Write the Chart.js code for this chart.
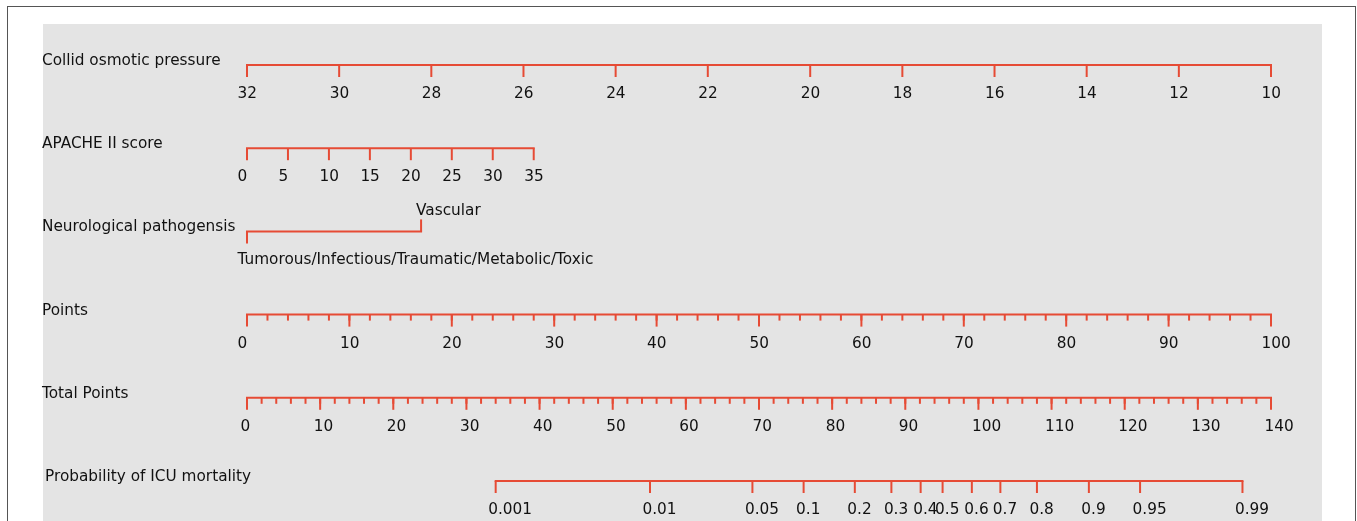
<!DOCTYPE html>
<html>
<head>
<meta charset="utf-8">
<script src="https://cdn.jsdelivr.net/npm/chart.js@4"></script>
<style>
  body { margin: 0; background: #fff; }
  canvas { display: block; }
</style>
</head>
<body>
<canvas id="nomo" width="1357" height="521"></canvas>
<script>
// row titles
const rowTitles = ['Collid osmotic pressure', 'APACHE II score', 'Neurological pathogensis',
                   'Points', 'Total Points', 'Probability of ICU mortality'];

// collid osmotic pressure: labels and their position on the points scale
const copLabels = ['32', '30', '28', '26', '24', '22', '20', '18', '16', '14', '12', '10'];
const copPoints = [0, 9, 18, 27, 36, 45, 55, 64, 73, 82, 91, 100];

// APACHE II score
const apacheLabels = ['0', '5', '10', '15', '20', '25', '30', '35'];
const apachePoints = [0, 4, 8, 12, 16, 20, 24, 28];

// neurological pathogenesis
const neuroLabels = ['Tumorous/Infectious/Traumatic/Metabolic/Toxic', 'Vascular'];
const neuroPoints = [0, 17];

// points axis
const pointsLabels = ['0', '10', '20', '30', '40', '50', '60', '70', '80', '90', '100'];
const pointsValues = [0, 10, 20, 30, 40, 50, 60, 70, 80, 90, 100];

// total points axis
const totalLabels = ['0', '10', '20', '30', '40', '50', '60', '70', '80', '90', '100', '110', '120', '130', '140'];
const totalValues = [0, 10, 20, 30, 40, 50, 60, 70, 80, 90, 100, 110, 120, 130, 140];
const totalMax = 140;

// probability of ICU mortality, positions read as total points
const probLabels = ['0.001', '0.01', '0.05', '0.1', '0.2', '0.3', '0.4', '0.5', '0.6', '0.7', '0.8', '0.9', '0.95', '0.99'];
const probTotals = [34.0, 55.1, 69.1, 76.1, 83.1, 88.1, 92.1, 95.1, 99.1, 103.0, 108.0, 115.1, 122.1, 136.1];

const RED = '#e64b35';
const FONT = '15.3px "DejaVu Sans"';

const toPts = t => t * 100 / totalMax;

// every row: tick positions on the points scale, labels, minor ticks
const rows = [
  { ticks: copPoints, labels: copLabels, dx: -9.5 },
  { ticks: apachePoints, labels: apacheLabels, dx: -9.5 },
  { ticks: neuroPoints, labels: neuroLabels, neuro: true },
  { ticks: pointsValues, labels: pointsLabels, dx: -9.5, minor: 2 },
  { ticks: totalValues.map(toPts), labels: totalLabels, dx: -6.5, minor: toPts(2) },
  { ticks: probTotals.map(toPts), labels: probLabels, dx: -7.5 }
];

const lineSets = rows.map((r, i) => ({
  data: [{ x: Math.min(...r.ticks), y: i }, { x: Math.max(...r.ticks), y: i }],
  showLine: true,
  clip: false,
  borderColor: RED,
  borderWidth: 2,
  borderCapStyle: 'square',
  pointRadius: 0
}));

const frame = {
  id: 'frame',
  beforeDraw(chart) {
    const c = chart.ctx;
    c.save();
    c.fillStyle = '#fff';
    c.fillRect(0, 0, chart.width, chart.height);
    c.strokeStyle = '#555';
    c.lineWidth = 1;
    c.strokeRect(7.5, 6.5, 1348, 530);
    c.fillStyle = '#e4e4e4';
    c.fillRect(43, 24, 1279, 510);
    c.restore();
  }
};

const nomo = {
  id: 'nomo',
  afterDatasetsDraw(chart) {
    const c = chart.ctx;
    const xs = chart.scales.x, ys = chart.scales.y;
    c.save();
    c.strokeStyle = RED;
    c.lineWidth = 2;
    c.font = FONT;
    c.fillStyle = '#111';
    c.textBaseline = 'alphabetic';
    c.textAlign = 'left';
    rows.forEach((r, i) => {
      const y = ys.getPixelForValue(i);
      c.fillText(rowTitles[i], i === 5 ? 45 : 42, y);
      if (r.minor) {
        const hi = Math.max(...r.ticks);
        for (let v = 0; v <= hi + 1e-6; v += r.minor) {
          const px = xs.getPixelForValue(v);
          c.beginPath(); c.moveTo(px, y); c.lineTo(px, y + 6); c.stroke();
        }
      }
      r.ticks.forEach((v, k) => {
        const px = xs.getPixelForValue(v);
        c.beginPath();
        if (r.neuro && k === 1) {
          c.moveTo(px, y); c.lineTo(px, y - 12);
        } else {
          c.moveTo(px, y); c.lineTo(px, y + 12);
        }
        c.stroke();
        if (r.neuro) {
          if (k === 1) c.fillText(r.labels[k], px - 5, y - 16);
          else c.fillText(r.labels[k], px - 9.5, y + 33);
        } else {
          c.fillText(r.labels[k], px + r.dx, y + 33);
        }
      });
    });
    c.restore();
  }
};

new Chart(document.getElementById('nomo'), {
  type: 'scatter',
  data: { datasets: lineSets },
  options: {
    responsive: false,
    animation: false,
    layout: { padding: { left: 247, right: 86, top: 65, bottom: 40 } },
    plugins: { legend: { display: false }, tooltip: { enabled: false } },
    scales: {
      x: { type: 'linear', min: 0, max: 100, display: false },
      y: { type: 'linear', min: 0, max: 5, reverse: true, display: false }
    }
  },
  plugins: [frame, nomo]
});
</script>
</body>
</html>
